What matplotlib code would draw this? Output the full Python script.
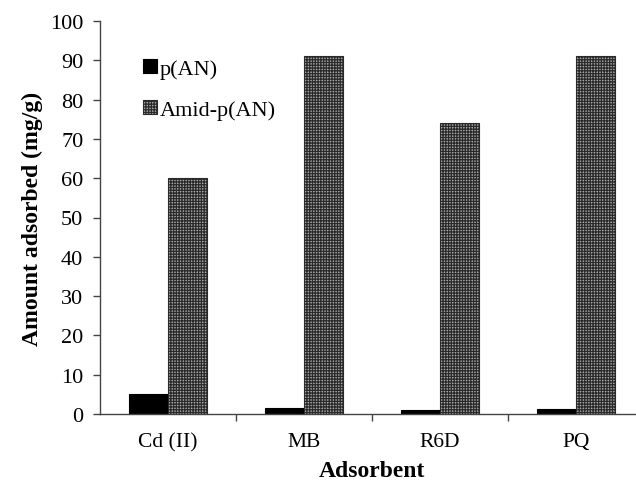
import numpy as np
import matplotlib.pyplot as plt
from matplotlib.ticker import FixedLocator, NullFormatter

plt.rcParams['font.family'] = ['Liberation Serif', 'DejaVu Serif']
plt.rcParams['hatch.linewidth'] = 0.9

# 데이터
adsorbents = ['Cd (II)', 'MB', 'R6D', 'PQ']
pan_values = [5.0, 1.6, 1.1, 1.3]
amid_values = [60.0, 91.0, 74.0, 91.0]
series_names = ['p(AN)', 'Amid-p(AN)']
y_ticks = [0, 10, 20, 30, 40, 50, 60, 70, 80, 90, 100]

fig = plt.figure(figsize=(6.36, 4.85), dpi=100)
# 오른쪽 끝은 원본처럼 잘려 나감
ax = fig.add_axes([100 / 636, 1 - 415 / 485, 544 / 636, 393 / 485])

x = np.arange(len(adsorbents))
w = 0.287

ax.bar(x - w / 2, pan_values, w, color='black', edgecolor='black',
       linewidth=0.8, label=series_names[0])
ax.bar(x + w / 2, amid_values, w, color='#a8a8a8', edgecolor='#2a2a2a',
       hatch='++++++', linewidth=0.8, label=series_names[1])

ax.set_xlim(-0.5, len(adsorbents) - 0.5)
ax.set_ylim(0, 100)
ax.set_yticks(y_ticks)
ax.tick_params(axis='y', labelsize=16, direction='out', length=5, width=1,
               color='#444444', pad=7)

# 카테고리 라벨은 가운데, 눈금은 경계에
ax.set_xticks(x)
ax.set_xticklabels(adsorbents, fontsize=15.5)
ax.tick_params(axis='x', which='major', length=0, pad=13)
ax.xaxis.set_minor_locator(FixedLocator(x[:-1] + 0.5))
ax.xaxis.set_minor_formatter(NullFormatter())
ax.tick_params(axis='x', which='minor', direction='out', length=5, width=1, color='#444444')

for s in ['top', 'right']:
    ax.spines[s].set_visible(False)
for s in ['left', 'bottom']:
    ax.spines[s].set_color('#444444')
    ax.spines[s].set_linewidth(1.0)

ax.set_xlabel('Adsorbent', fontsize=17, fontweight='bold', labelpad=6)
ax.set_ylabel('Amount adsorbed (mg/g)', fontsize=17, fontweight='bold', labelpad=5)

ax.legend(loc='upper left', bbox_to_anchor=(0.043, 0.955), frameon=False, fontsize=16,
          handlelength=0.6, handleheight=0.6, handletextpad=0.15, labelspacing=0.95)

fig.savefig('out.png', dpi=100)
